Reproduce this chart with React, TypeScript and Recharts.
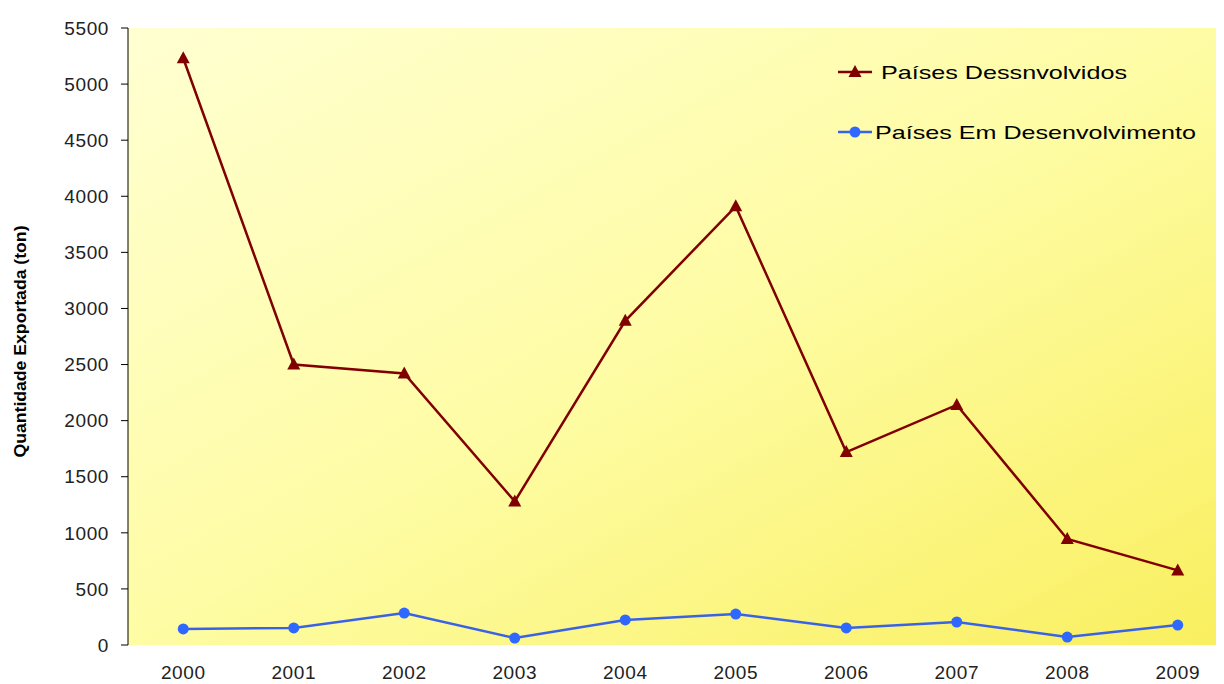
import {
  CartesianGrid,
  ComposedChart,
  Legend,
  Line,
  XAxis,
  YAxis,
} from "recharts";

const years = ["2000", "2001", "2002", "2003", "2004", "2005", "2006", "2007", "2008", "2009"];
const desenvolvidos = [5230, 2500, 2420, 1280, 2890, 3910, 1720, 2140, 945, 665];
const emDesenvolvimento = [143, 152, 285, 62, 223, 276, 152, 205, 71, 178];
const yTicks = [0, 500, 1000, 1500, 2000, 2500, 3000, 3500, 4000, 4500, 5000, 5500];
const boundaryTicks = [0, 1, 2, 3, 4, 5, 6, 7, 8, 9, 10];

const NAME_DEV = "Países Dessnvolvidos";
const NAME_EM = "Países Em Desenvolvimento";
const RED = "#800000";
const BLUE = "#3a62e6";

const data = years.map((y, i) => ({
  year: y,
  dev: desenvolvidos[i],
  em: emDesenvolvimento[i],
}));

const FONT = "'Liberation Sans', Arial, sans-serif";

function Triangle(props: any) {
  const { cx, cy } = props;
  if (cx == null || cy == null) return null;
  return (
    <polygon
      points={`${cx},${cy - 7} ${cx + 6.5},${cy + 5} ${cx - 6.5},${cy + 5}`}
      fill={RED}
    />
  );
}

function Dot(props: any) {
  const { cx, cy } = props;
  if (cx == null || cy == null) return null;
  return <circle cx={cx} cy={cy} r={5.5} fill="#2f68ff" />;
}

function YLabel(props: any) {
  const vb = props.viewBox || { x: 0, y: 0, width: 0, height: 0 };
  const cy = vb.y + vb.height / 2 + 5;
  return (
    <text
      x={12}
      y={cy}
      transform={`rotate(-90 12 ${cy})`}
      textAnchor="middle"
      dominantBaseline="central"
      fontFamily={FONT}
      fontWeight="bold"
      fontSize={16}
      fill="#000"
      textLength={232}
      lengthAdjust="spacingAndGlyphs"
    >
      Quantidade  Exportada  (ton)
    </text>
  );
}

function LegendBox() {
  return (
    <svg width={400} height={110}>
      <line x1={10} y1={24} x2={44} y2={24} stroke={RED} strokeWidth={2.5} />
      <polygon points="27,17 33.5,29 20.5,29" fill={RED} />
      <text
        x={53}
        y={24}
        dominantBaseline="central"
        fontFamily={FONT}
        fontSize={19}
        fill="#000"
        textLength={246}
        lengthAdjust="spacingAndGlyphs"
      >
        {NAME_DEV}
      </text>
      <line x1={10} y1={84} x2={44} y2={84} stroke={BLUE} strokeWidth={2.5} />
      <circle cx={27} cy={84} r={5.5} fill="#2f68ff" />
      <text
        x={47}
        y={84}
        dominantBaseline="central"
        fontFamily={FONT}
        fontSize={19}
        fill="#000"
        textLength={321}
        lengthAdjust="spacingAndGlyphs"
      >
        {NAME_EM}
      </text>
    </svg>
  );
}

export default function App() {
  return (
    <div style={{ width: 1216, height: 676, overflow: "hidden" }}>
      <ComposedChart
        width={1240}
        height={676}
        data={data}
        margin={{ top: 20, right: 15, left: 0, bottom: 0 }}
      >
        <defs>
          <linearGradient id="bg" x1="0" y1="0" x2="1" y2="1">
            <stop offset="0%" stopColor="#ffffd2" />
            <stop offset="50%" stopColor="#fefca4" />
            <stop offset="100%" stopColor="#f9ef5e" />
          </linearGradient>
        </defs>
        <CartesianGrid horizontal={false} vertical={false} fill="url(#bg)" />
        <XAxis
          xAxisId="grid"
          type="number"
          domain={[0, 10]}
          ticks={boundaryTicks}
          allowDataOverflow
          tick={false}
          tickSize={7}
          height={0}
          axisLine={{ stroke: "#000" }}
          tickLine={{ stroke: "#000" }}
        />
        <XAxis
          dataKey="year"
          scale="band"
          axisLine={false}
          tickLine={false}
          tickSize={6}
          tickMargin={15}
          height={39}
          interval={0}
          tick={{ fill: "#222", fontSize: 19, fontFamily: FONT, letterSpacing: 0.6 }}
        />
        <YAxis
          domain={[0, 5500]}
          ticks={yTicks}
          width={120}
          interval={0}
          tickSize={7}
          tickMargin={12}
          axisLine={{ stroke: "#000" }}
          tickLine={{ stroke: "#000" }}
          tick={{ fill: "#222", fontSize: 19, fontFamily: FONT, letterSpacing: 0.6 }}
          label={<YLabel />}
        />
        <Legend
          layout="vertical"
          align="center"
          verticalAlign="middle"
          content={() => <LegendBox />}
          wrapperStyle={{ position: "absolute", top: 40, left: 820, width: 400, height: 110 }}
        />
        <Line
          type="linear"
          dataKey="dev"
          name={NAME_DEV}
          stroke={RED}
          strokeWidth={2.5}
          dot={<Triangle />}
          activeDot={false}
          isAnimationActive={false}
        />
        <Line
          type="linear"
          dataKey="em"
          name={NAME_EM}
          stroke={BLUE}
          strokeWidth={2.5}
          dot={<Dot />}
          activeDot={false}
          isAnimationActive={false}
        />
      </ComposedChart>
    </div>
  );
}
